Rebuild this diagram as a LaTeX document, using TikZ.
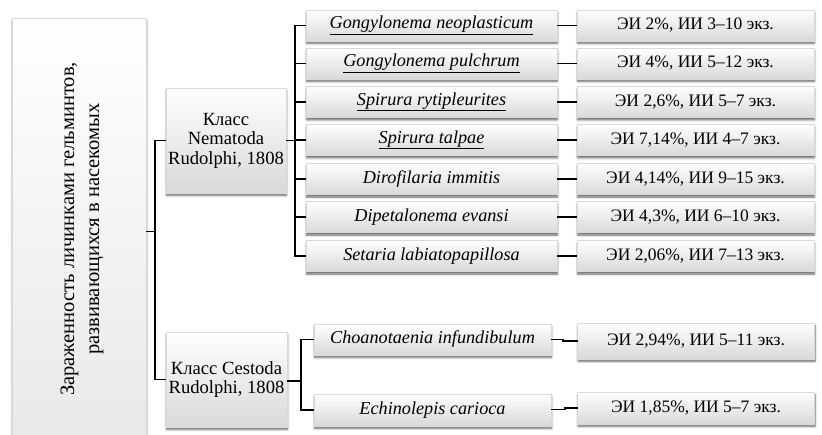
\documentclass[tikz,border=0pt]{standalone}
\usepackage{fontspec}
\setmainfont{Liberation Serif}
\usetikzlibrary{shadows.blur}
\begin{document}
\begin{tikzpicture}[x=1pt,y=-1pt,
  box/.style={shade, top color=white, middle color=gray!4, bottom color=gray!30,
    draw=gray!30, line width=0.4pt, inner sep=0pt, outer sep=0pt,
    blur shadow={shadow blur steps=6, shadow xshift=0.5pt, shadow yshift=-2.5pt, shadow opacity=60, shadow blur radius=2pt},
    font=\fontsize{17.5}{19.5}\selectfont},
  cls/.style={box, align=center, font=\fontsize{18.6}{19.5}\selectfont},
  sp/.style={box, minimum width=251pt, minimum height=31pt, font=\fontsize{18.2}{20}\selectfont\itshape},
  res/.style={box, minimum width=237pt, minimum height=31pt},
  conn/.style={draw=black, line width=1.3pt}]
\useasboundingbox (0,0) rectangle (822,435);
% main box
\node[box, top color=white, middle color=gray!10, bottom color=gray!18, minimum width=134pt, minimum height=427pt] (main) at (79,231.5) {};
\node[rotate=90, align=center, font=\fontsize{20.5}{25}\selectfont] (maintext) at (82,229) {Зараженность личинками гельминтов,\\развивающихся в насекомых};
% class boxes
\node[cls, minimum width=120pt, minimum height=105pt] (nem) at (226,140.5) {Класс\\Nematoda\\Rudolphi, 1808};
\node[cls, minimum width=121pt, minimum height=95pt] (ces) at (226.5,379.5) {Класс Cestoda\\Rudolphi, 1808};
% species boxes
\node[sp] (s1) at (431.5,25.5) {\underline{Gongylonema neoplasticum}};
\node[sp] (s2) at (431.5,63.5) {\underline{Gongylonema pulchrum}};
\node[sp] (s3) at (431.5,102) {\underline{Spirura rytipleurites}};
\node[sp] (s4) at (431.5,140) {\underline{Spirura talpae}};
\node[sp] (s5) at (431.5,179) {Dirofilaria immitis};
\node[sp] (s6) at (431.5,217) {Dipetalonema evansi};
\node[sp] (s7) at (431.5,256) {Setaria labiatopapillosa};
\node[sp, minimum width=237pt] (c1) at (432.5,339.5) {Choanotaenia infundibulum};
\node[sp, minimum width=237pt, minimum height=32pt] (c2) at (432.5,410) {Echinolepis carioca};
% result boxes
\node[res] (r1) at (695.5,25.5) {ЭИ 2\%, ИИ 3–10 экз.};
\node[res] (r2) at (695.5,63.5) {ЭИ 4\%, ИИ 5–12 экз.};
\node[res] (r3) at (695.5,102) {ЭИ 2,6\%, ИИ 5–7 экз.};
\node[res] (r4) at (695.5,140) {ЭИ 7,14\%, ИИ 4–7 экз.};
\node[res] (r5) at (695.5,179) {ЭИ 4,14\%, ИИ 9–15 экз.};
\node[res] (r6) at (695.5,217) {ЭИ 4,3\%, ИИ 6–10 экз.};
\node[res] (r7) at (695.5,256) {ЭИ 2,06\%, ИИ 7–13 экз.};
\node[res, minimum height=36pt] (q1) at (696,341) {ЭИ 2,94\%, ИИ 5–11 экз.};
\node[res, minimum height=32pt] (q2) at (696,408) {ЭИ 1,85\%, ИИ 5–7 экз.};
% spine coordinates
\coordinate (k1) at (155,0);
\coordinate (k2) at (295,0);
\coordinate (k3) at (301,0);
% connectors level 1
\draw[conn] (main.east) -- (main.east -| k1);
\draw[conn] (nem.west) -- (nem.west -| k1) -- (ces.west -| k1) -- (ces.west);
% nematoda
\draw[conn] (nem.east) -- (nem.east -| k2);
\draw[conn] (s1.west) -- (s1.west -| k2) -- (s7.west -| k2) -- (s7.west);
\foreach \n in {s2,s3,s4,s5,s6}{\draw[conn] (\n.west) -- (\n.west -| k2);}
\foreach \a/\b in {s1/r1,s2/r2,s3/r3,s4/r4,s5/r5,s6/r6,s7/r7}{\draw[conn] (\a.east) -- (\b.west |- \a.east);}
% cestoda
\coordinate (cy) at (0,381);
\draw[conn] (ces.east |- cy) -- (k3 |- cy);
\draw[conn] (c1.west) -- (c1.west -| k3) -- (c2.west -| k3) -- (c2.west);
\coordinate (j1) at (563,0);
\coordinate (j2) at (565,0);
\draw[conn] (c1.east) -- (c1.east -| j1) -- (j1 |- q1.west) -- (q1.west);
\draw[conn] (c2.east |- 0,409.5) -- (j2 |- 0,409.5) -- (j2 |- q2.west) -- (q2.west);
\end{tikzpicture}
\end{document}
